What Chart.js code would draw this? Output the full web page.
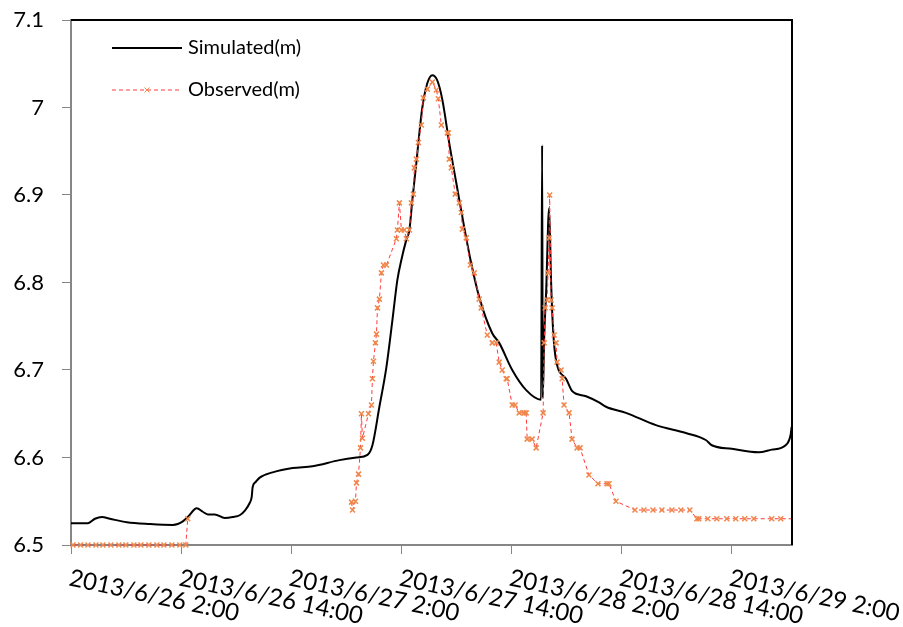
<!DOCTYPE html>
<html><head><meta charset="utf-8">
<script src="https://cdn.jsdelivr.net/npm/chart.js@4/dist/chart.umd.min.js"></script>
<style>html,body{margin:0;padding:0;background:#fff;}#wrap{width:903px;height:627px;}</style>
</head><body><div id="wrap"><canvas id="c" width="903" height="627"></canvas></div>
<script>
// x axis: hours elapsed since 2013/6/26 2:00
const tickHours = [0, 12, 24, 36, 48, 60, 72];
const tickLabels = ["2013/6/26 2:00", "2013/6/26 14:00", "2013/6/27 2:00", "2013/6/27 14:00", "2013/6/28 2:00", "2013/6/28 14:00", "2013/6/29 2:00"];
const yTickValues = [6.5, 6.6, 6.7, 6.8, 6.9, 7.0, 7.1];
const yTickLabels = ["6.5", "6.6", "6.7", "6.8", "6.9", "7", "7.1"];
const seriesNames = ["Simulated(m)", "Observed(m)"];

const simHours = [0.00,1.85,2.61,3.37,4.24,6.09,8.60,11.10,11.64,12.19,12.73,13.71,14.36,14.91,15.67,16.76,17.63,18.39,18.93,19.48,19.70,19.80,20.13,20.57,21.98,24.16,26.33,29.27,31.12,32.32,32.86,33.62,34.38,35.04,35.58,36.02,36.56,36.89,37.21,37.65,37.98,38.30,38.85,39.39,39.93,40.48,41.24,42.00,42.87,43.63,44.51,45.92,46.68,48.10,49.62,51.25,51.36,51.43,51.58,51.80,52.12,52.34,52.56,52.88,53.97,54.63,56.15,57.56,58.32,60.50,63.76,67.03,69.20,69.86,72.03,74.97,76.39,77.91,78.45,78.56];
const simValues = [6.525,6.525,6.530,6.532,6.530,6.526,6.524,6.523,6.524,6.527,6.532,6.542,6.538,6.535,6.535,6.531,6.532,6.534,6.539,6.548,6.555,6.566,6.572,6.577,6.583,6.588,6.590,6.597,6.600,6.603,6.614,6.658,6.703,6.757,6.803,6.826,6.849,6.860,6.894,6.937,6.971,7.000,7.028,7.037,7.031,7.009,6.959,6.914,6.863,6.822,6.783,6.742,6.731,6.700,6.677,6.666,6.957,6.668,6.735,6.790,6.885,6.800,6.745,6.711,6.690,6.676,6.670,6.663,6.658,6.651,6.637,6.628,6.620,6.614,6.610,6.606,6.609,6.614,6.626,6.635];

const obsHours = [0.22,1.04,1.85,2.72,3.48,4.35,5.22,5.98,6.86,7.62,8.49,9.36,10.12,10.99,11.86,12.51,12.73,20.00,30.58,30.69,31.01,31.12,31.34,31.56,31.66,31.77,32.43,32.75,32.86,32.97,33.19,33.30,33.41,33.62,33.84,34.06,34.39,35.47,35.58,35.80,36.02,36.34,36.56,36.89,37.11,37.32,37.43,37.65,37.87,38.19,38.41,38.85,39.39,39.83,40.04,40.37,41.02,41.13,41.24,41.46,41.89,42.33,42.55,42.66,43.09,43.53,43.96,44.50,44.72,45.38,45.92,46.35,46.68,47.01,47.44,47.55,48.10,48.42,48.86,49.40,49.62,49.73,50.27,50.71,51.47,51.58,51.69,51.90,52.01,52.12,52.18,52.34,52.45,52.67,52.88,52.99,53.43,53.54,53.75,54.30,54.62,55.17,55.49,56.47,57.45,58.43,58.65,59.41,61.48,62.46,63.44,64.42,65.51,66.49,67.46,68.23,68.44,69.42,70.40,71.49,72.47,73.45,74.43,76.39,77.37,80.00];
const obsValues = [6.5,6.5,6.5,6.5,6.5,6.5,6.5,6.5,6.5,6.5,6.5,6.5,6.5,6.5,6.5,6.5,6.53,null,6.549,6.540,6.550,6.571,6.581,6.611,6.650,6.622,6.650,6.660,6.690,6.710,6.731,6.741,6.771,6.781,6.811,6.820,6.820,6.850,6.860,6.891,6.860,6.860,6.850,6.860,6.891,6.901,6.931,6.941,6.960,6.980,7.011,7.021,7.029,7.020,7.010,6.980,6.971,6.971,6.941,6.931,6.901,6.891,6.880,6.861,6.851,6.820,6.811,6.781,6.771,6.740,6.731,6.731,6.709,6.700,6.690,6.690,6.660,6.660,6.651,6.651,6.651,6.621,6.621,6.611,6.651,6.731,6.771,6.780,6.811,6.851,6.900,6.780,6.771,6.740,6.731,6.709,6.700,6.690,6.660,6.651,6.621,6.611,6.611,6.580,6.570,6.570,6.570,6.550,6.540,6.540,6.540,6.540,6.540,6.540,6.540,6.530,6.530,6.530,6.530,6.530,6.530,6.530,6.530,6.530,6.530,6.530];

const FONT = 'Lato, "Open Sans", sans-serif';
const AXIS_GRAY = '#868686';
const OBS_LINE = '#ff3b3b';
const OBS_MARK = '#f0874a';

const simData = simHours.map((h, i) => ({x: h, y: simValues[i]}));
const obsData = obsHours.map((h, i) => ({x: h, y: obsValues[i]}));

const framePlugin = {
  id: 'frame',
  afterDatasetsDraw(chart) {
    const {ctx, chartArea: a} = chart;
    ctx.save();
    ctx.strokeStyle = '#000';
    ctx.lineWidth = 2;
    ctx.beginPath();
    ctx.moveTo(a.left, a.top);
    ctx.lineTo(a.right, a.top);
    ctx.lineTo(a.right, a.bottom);
    ctx.stroke();
    ctx.restore();
  },
  afterDraw(chart) {
    const {ctx, chartArea: a} = chart;
    const xs = chart.scales.x;
    // rotated x tick labels
    ctx.save();
    ctx.font = '24px ' + FONT;
    ctx.fillStyle = '#000';
    ctx.textAlign = 'left';
    ctx.textBaseline = 'top';
    tickHours.forEach((h, i) => {
      const px = xs.getPixelForValue(h);
      ctx.save();
      ctx.translate(px + 1, a.bottom + 21);
      ctx.rotate(12 * Math.PI / 180);
      ctx.fillText(tickLabels[i], 0, 0);
      ctx.restore();
    });
    ctx.restore();
    // legend
    ctx.save();
    const lx0 = a.left + 41, lx1 = a.left + 111, tx = a.left + 117;
    const y1 = a.top + 28, y2 = a.top + 70;
    ctx.strokeStyle = '#000';
    ctx.lineWidth = 2;
    ctx.beginPath(); ctx.moveTo(lx0, y1); ctx.lineTo(lx1, y1); ctx.stroke();
    ctx.strokeStyle = OBS_LINE;
    ctx.lineWidth = 1;
    ctx.setLineDash([4, 3]);
    ctx.beginPath(); ctx.moveTo(lx0, y2); ctx.lineTo(lx1, y2); ctx.stroke();
    ctx.setLineDash([]);
    ctx.strokeStyle = OBS_MARK;
    ctx.fillStyle = OBS_MARK;
    Chart.helpers.drawPoint(ctx, {pointStyle: 'crossRot', radius: 3.5, borderWidth: 1.5}, (lx0 + lx1) / 2, y2);
    ctx.font = '20px ' + FONT;
    ctx.fillStyle = '#000';
    ctx.textAlign = 'left';
    ctx.textBaseline = 'middle';
    ctx.fillText(seriesNames[0], tx, y1);
    ctx.fillText(seriesNames[1], tx, y2);
    ctx.restore();
  }
};

new Chart(document.getElementById('c'), {
  type: 'line',
  data: {
    datasets: [
      {
        label: seriesNames[1],
        data: obsData,
        borderColor: OBS_LINE,
        borderWidth: 1,
        borderDash: [4, 3],
        pointStyle: 'crossRot',
        pointRadius: 3.5,
        pointBorderWidth: 1.5,
        pointBorderColor: OBS_MARK,
        pointBackgroundColor: OBS_MARK,
        tension: 0,
        spanGaps: false,
        clip: {left: 6, top: 6, right: 0, bottom: 8}
      },
      {
        label: seriesNames[0],
        data: simData,
        borderColor: '#000',
        borderWidth: 2,
        pointRadius: 0,
        cubicInterpolationMode: 'monotone',
        clip: {left: 2, top: 2, right: 0, bottom: 2}
      }
    ]
  },
  options: {
    responsive: false,
    animation: false,
    devicePixelRatio: 1,
    layout: {padding: {top: 20, right: 111, bottom: 0, left: 0}},
    plugins: {legend: {display: false}, tooltip: {enabled: false}},
    scales: {
      x: {
        type: 'linear',
        min: 0,
        max: 78.6,
        afterBuildTicks: s => { s.ticks = tickHours.map(v => ({value: v})); },
        afterFit: s => { s.height = 82; s.paddingLeft = 0; s.paddingRight = 0; },
        grid: {drawOnChartArea: false, drawTicks: true, tickLength: 9, color: AXIS_GRAY, lineWidth: 1},
        border: {display: true, color: AXIS_GRAY, width: 2},
        ticks: {display: false}
      },
      y: {
        min: 6.5,
        max: 7.1,
        afterBuildTicks: s => { s.ticks = yTickValues.map(v => ({value: v})); },
        afterFit: s => { s.width = 71; s.paddingTop = 0; s.paddingBottom = 0; },
        grid: {drawOnChartArea: false, drawTicks: true, tickLength: 9, color: AXIS_GRAY, lineWidth: 1},
        border: {display: true, color: AXIS_GRAY, width: 2},
        ticks: {
          padding: 18,
          color: '#000',
          font: {family: FONT, size: 22},
          callback: (v, i) => yTickLabels[i]
        }
      }
    }
  },
  plugins: [framePlugin]
});
</script>
</body></html>
